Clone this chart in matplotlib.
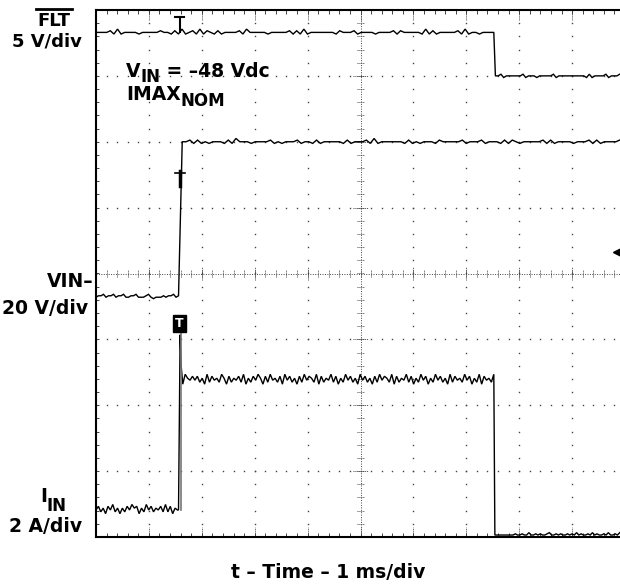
import matplotlib
matplotlib.use("Agg")
import matplotlib.pyplot as plt
import numpy as np

plt.rcParams["font.family"] = ["DejaVu Sans"]
plt.rcParams["font.weight"] = "bold"

W, H = 620, 585

# screen is 10 x 8 divisions, 1 ms/div, 0 = screen centre
t_edge = -3.44      # turn-on edge
t_fault = 2.52      # fault timer runs out
t_end = 4.9

flt_high, flt_low = 3.66, 3.0
vin_low, vin_high = -0.36, 2.0
iin_off, iin_peak, iin_on, iin_end = -3.59, -0.93, -1.62, -3.97

# ripple on the traces (digit 4 = on the level)
flt_ripple_on = ("44445363444434444454435363453635435344445364444434444453"
                 "53634444444354445344443444453544444363534444453634434444")
flt_ripple_off = "4453444444534443444445344444444443534444534445"
vin_ripple_low = "4556455645564455644456434445455645"
vin_ripple_high = ("44535343444353644434444534344453443534444435344453634444"
                   "44353434443544444534445344435354344444535344443444535344445")
iin_ripple_off = "46352647352536475625374635463736254"
iin_ripple_on = ("27546463527364537526354637253647526374536274635263746537"
                 "26354736253746352746352637465372635473625374625374635273"
                 "64537462537264537")
iin_ripple_end = "44444444454454464454544564454544545464544546454454644546"


def ripple(s, t0, t1, level, gain):
    d = np.array([int(c) for c in s]) - 4
    return np.linspace(t0, t1, len(d)), level + gain * d


fig = plt.figure(figsize=(W / 100, H / 100), dpi=100)
ax = fig.add_axes([96 / W, (H - 537) / H, 529 / W, 527 / H])
ax.set_xlim(-5, 5)
ax.set_ylim(-4, 4)
ax.set_xticks([])
ax.set_yticks([])
ax.spines["right"].set_visible(False)
for s in ["left", "top", "bottom"]:
    ax.spines[s].set_linewidth(1.5)

# graticule
gc = "#444444"
minor_x = np.arange(-5, 5.001, 0.2)
minor_y = np.arange(-4, 4.001, 0.2)
dot = dict(ls="none", marker="s", ms=1.0, mew=0, color=gc)
for xm in [-4, -3, -2, -1, 1, 2, 3, 4]:
    ax.plot(np.full_like(minor_y, xm), minor_y, **dot)
    ax.vlines(xm, -0.1, 0.1, lw=0.7, color=gc, ls=(0, (1, 1)))
for ym in [-3, -2, -1, 1, 2, 3]:
    ax.plot(minor_x, np.full_like(minor_x, ym), **dot)
    ax.hlines(ym, -0.15, 0.15, lw=0.7, color=gc, ls=(0, (1, 1)))
ax.axvline(0, lw=0.7, color=gc, ls=(0, (1, 1.5)))
ax.axhline(0, lw=0.7, color=gc, ls=(0, (1, 1.5)))
ax.hlines(minor_y, -0.07, 0.07, lw=0.7, color=gc, ls=(0, (1, 1)))
ax.vlines(minor_x, -0.06, 0.06, lw=0.7, color=gc, ls=(0, (1, 1)))
ax.vlines(minor_x, 3.94, 4, lw=0.7, color=gc)
ax.vlines(minor_x, -4, -3.94, lw=0.7, color=gc)
ax.vlines(np.arange(-4, 5), 3.85, 4, lw=0.7, color=gc, ls=(0, (1, 1)))
ax.vlines(np.arange(-4, 5), -4, -3.85, lw=0.7, color=gc, ls=(0, (1, 1)))
ax.hlines(minor_y, -5, -4.95, lw=0.7, color=gc)

tr = dict(color="black", lw=1.0, solid_joinstyle="miter")

# FLT
t1, y1 = ripple(flt_ripple_on, -5, t_fault, flt_high, 0.025)
t2, y2 = ripple(flt_ripple_off, t_fault + 0.03, t_end, flt_low, 0.025)
ax.plot(np.r_[t1, t2], np.r_[y1, y2], **tr)

# VIN-
t1, y1 = ripple(vin_ripple_low, -5, t_edge, vin_low, 0.022)
t2, y2 = ripple(vin_ripple_high, t_edge + 0.07, t_end, vin_high, 0.025)
ax.plot(np.r_[t1, t2], np.r_[y1, y2], **tr)

# IIN
t1, y1 = ripple(iin_ripple_off, -5, t_edge - 0.02, iin_off, 0.028)
t2, y2 = ripple(iin_ripple_on, t_edge + 0.08, t_fault, iin_on, 0.03)
t3, y3 = ripple(iin_ripple_end, t_fault + 0.02, t_end, iin_end, 0.018)
ax.plot(np.r_[t1, t_edge, t_edge + 0.03, t_edge + 0.05, t2, t3],
        np.r_[y1, iin_off, iin_peak, -1.4, y2, y3], **tr)
ax.plot([t_edge + 0.05, t_edge + 0.05], [iin_off, -0.85], color="#777777", lw=1.2)

# trigger marks
ax.plot([-3.51, -3.33], [3.89, 3.89], color="black", lw=1.5)
ax.plot([-3.42, -3.42], [3.89, flt_high], color="black", lw=1.5)
ax.plot([-3.51, -3.31], [1.53, 1.53], color="black", lw=1.2)
ax.plot([-3.41, -3.41], [1.55, 1.33], color="black", lw=2.5)
ax.text(-3.42, -0.76, "T", color="white", fontsize=9, ha="center", va="center",
        bbox=dict(boxstyle="square,pad=0.18", fc="black", ec="black"))
ax.plot([4.86], [0.33], marker="<", ms=7, color="black", clip_on=False)


def px_text(x, y, s, **kw):
    kw.setdefault("fontsize", 13.5)
    return fig.text(x / W, 1 - y / H, s, **kw)


def sub_after(prev, s, dy, size=12):
    # next piece of a label, just right of the previous one, shifted dy pixels
    return ax.annotate(s, xy=(1, 0.5), xycoords=prev, xytext=(0, dy),
                       textcoords="offset pixels", ha="left", va="center",
                       fontsize=size, annotation_clip=False)


# channel labels
px_text(54, 26.5, "FLT", ha="center", va="baseline", fontsize=13)
fig.add_artist(plt.Line2D([36 / W, 72 / W], [1 - 9 / H, 1 - 9 / H], color="black", lw=2))
px_text(82, 46.5, "5 V/div", ha="right", va="baseline", fontsize=13)
px_text(94, 281, "VIN–", ha="right", va="center")
px_text(88, 308, "20 V/div", ha="right", va="center")
i_lab = px_text(40, 497, "I", ha="left", va="center")
sub_after(i_lab, "IN", -9)
px_text(82, 526, "2 A/div", ha="right", va="center")

# test conditions
v_lab = px_text(126, 71.5, "V", ha="left", va="center")
v_sub = sub_after(v_lab, "IN", -6)
sub_after(v_sub, " = –48 Vdc", 6, 13.5)
m_lab = px_text(126, 95, "IMAX", ha="left", va="center")
sub_after(m_lab, "NOM", -6)

px_text(328, 573, "t – Time – 1 ms/div", ha="center", va="center")

fig.savefig("out.png", dpi=100)
